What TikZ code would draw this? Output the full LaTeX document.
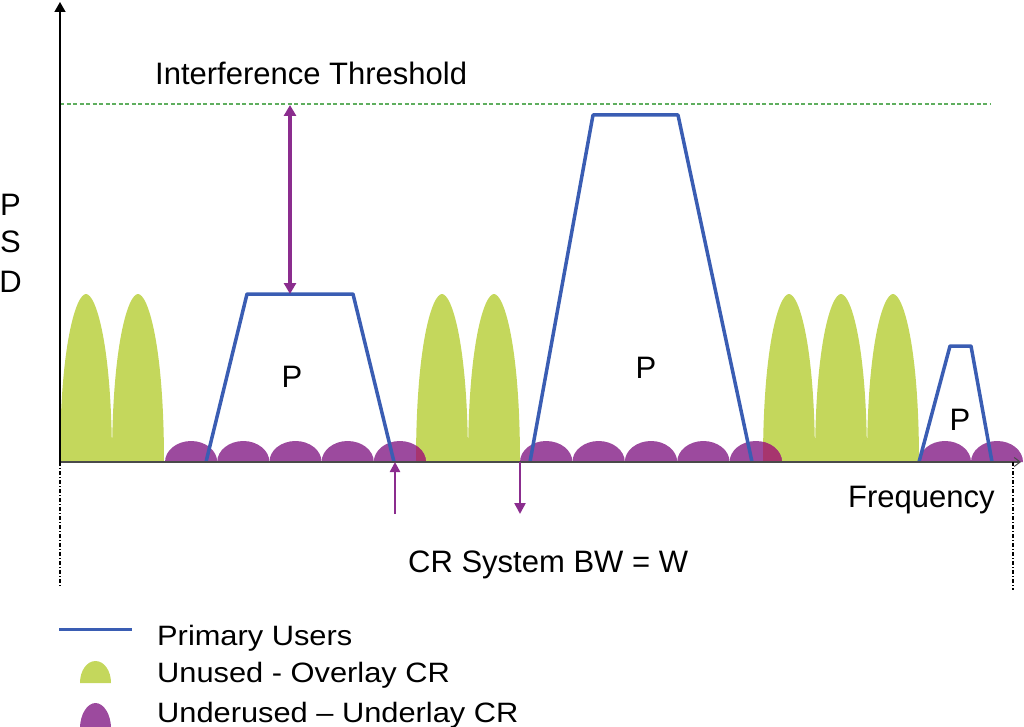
\documentclass[tikz,border=0pt]{standalone}
\usepackage{fontspec}
\setmainfont{Liberation Sans}
\usetikzlibrary{arrows.meta}
\definecolor{lobegreen}{HTML}{C4D75C}
\definecolor{domepurple}{HTML}{9C4A9E}
\definecolor{overlapred}{HTML}{A7356E}
\definecolor{publue}{HTML}{3A5DB3}
\definecolor{arrowpurple}{HTML}{8B2D8E}
\definecolor{thrgreen}{HTML}{5FAE5F}
\definecolor{axisgray}{HTML}{4A4A4A}
\newcommand\lobe[4][lobegreen]{\fill[#1] (#2,462) .. controls (#2,345) and ({#3-10},294) .. (#3,294) .. controls ({#3+10},294) and (#4,345) .. (#4,462) -- cycle;}
\newcommand\lobeclip[3]{\clip (#1,462) .. controls (#1,345) and ({#2-10},294) .. (#2,294) .. controls ({#2+10},294) and (#3,345) .. (#3,462) -- cycle;}
\newcommand\dome[3][domepurple]{\fill[#1] (#2,462) .. controls (#2,450.4) and ({(#2+#3)/2-14.3},441) .. ({(#2+#3)/2},441) .. controls ({(#2+#3)/2+14.3},441) and (#3,450.4) .. (#3,462) -- cycle;}
\begin{document}
\begin{tikzpicture}[x=1pt,y=-1pt,
  txt/.style={inner sep=0pt,font=\fontsize{31}{37}\selectfont},
  legtxt/.style={inner sep=0pt,font=\fontsize{28}{33}\selectfont},
  pu/.style={draw=publue,line width=3.5pt,line join=round},
  parrow/.style={draw=arrowpurple,line width=2.5pt},
  dashdot/.style={draw=black,line width=1.5pt,dash pattern=on 4pt off 2pt on 1pt off 2pt}]
\useasboundingbox (0,0) rectangle (1024,727);
% green lobes (unused spectrum)
\lobe{60}{86}{112}
\lobe{112}{138}{164}
\lobe{416}{442}{468}
\lobe{468}{494}{520}
\lobe{763}{789}{815}
\lobe{815}{841}{867}
\lobe{867}{893}{919}
% purple domes (underused spectrum)
\dome{165}{217.2}
\dome{217.2}{269.4}
\dome{269.4}{321.6}
\dome{321.6}{373.8}
\dome{373.8}{426}
\dome{520}{572.4}
\dome{572.4}{624.8}
\dome{624.8}{677.2}
\dome{677.2}{729.6}
\dome{729.6}{782}
\dome{919}{971}
\dome{971}{1023}
\begin{scope}
\lobeclip{416}{442}{468}
\dome[overlapred]{373.8}{426}
\end{scope}
\begin{scope}
\lobeclip{763}{789}{815}
\dome[overlapred]{729.6}{782}
\end{scope}
% primary users
\draw[pu] (206,462) -- (247,294) coordinate (p1top) -- (353,294) -- (394,462);
\draw[pu] (530,462) -- (593,115) -- (678,115) -- (752,462);
\draw[pu] (919,462) -- (950,346) -- (971,346) -- (992,462);
% threshold
\coordinate (thrL) at (60,104);
\coordinate (thrR) at (990,104);
\draw[thrgreen,line width=1.2pt,dash pattern=on 4pt off 2.5pt] (thrL) -- (thrR);
% axes
\coordinate (origin) at (60,462);
\coordinate (ytip) at (60,2);
\coordinate (xtip) at (1021,462);
\draw[axisgray,line width=2pt,-{Straight Barb[length=6pt,width=9pt,line width=1pt]}] (origin) -- (xtip);
\draw[black,line width=1.5pt,-{Triangle[length=10pt,width=11pt]}] (origin) -- (ytip);
% bandwidth dash-dot lines
\coordinate (bwL) at (60,587);
\coordinate (bwRt) at (1013,462);
\coordinate (bwR) at (1013,590);
\draw[dashdot] (origin) -- (bwL);
\draw[dashdot] (bwRt) -- (bwR);
% purple arrows
\coordinate (dA) at (290,105);
\coordinate (dB) at (290,294);
\draw[parrow,line width=3.8pt,{Triangle[length=11pt,width=12pt]}-{Triangle[length=11pt,width=12pt]}] (dA) -- (dB);
\coordinate (upS) at (395,514);
\coordinate (upE) at (395,462);
\draw[parrow,line width=2.4pt,-{Triangle[length=10pt,width=10pt]}] (upS) -- (upE);
\coordinate (dnS) at (520,462);
\coordinate (dnE) at (520,514);
\draw[parrow,line width=2.4pt,-{Triangle[length=11pt,width=11pt]}] (dnS) -- (dnE);
% texts
\node[txt,anchor=base west] (thr) at (155,85) {Interference Threshold};
\node[txt,anchor=base] (psdP) at (10.5,215) {P};
\node[txt,anchor=base] (psdS) at (10.5,252) {S};
\node[txt,anchor=base] (psdD) at (10.5,292) {D};
\node[txt,anchor=base] (P1) at (292,387) {P};
\node[txt,anchor=base] (P2) at (646,378) {P};
\node[txt,anchor=base] (P3) at (960,430) {P};
\node[txt,anchor=base west] (freq) at (848,507) {Frequency};
\node[txt,anchor=base west] (bw) at (408,572) {CR System BW = W};
% legend
\coordinate (lgA) at (59,629);
\coordinate (lgB) at (132,629);
\draw[pu,line width=3pt] (lgA) -- (lgB);
\fill[lobegreen] (80,683) .. controls (80,670.5) and (87,661) .. (95.5,661) .. controls (104,661) and (111,670.5) .. (111,683) -- cycle;
\fill[domepurple] (80,728) .. controls (80,715) and (87,703) .. (95.5,703) .. controls (104,703) and (111,715) .. (111,728) -- cycle;
\node[legtxt,anchor=base west] (lg1) at (157,645) {\scalebox{1.1}[1]{Primary Users}};
\node[legtxt,anchor=base west] (lg2) at (157,682) {\scalebox{1.1}[1]{Unused - Overlay CR}};
\node[legtxt,anchor=base west] (lg3) at (157,722) {\scalebox{1.1}[1]{Underused – Underlay CR}};
\end{tikzpicture}
\end{document}
